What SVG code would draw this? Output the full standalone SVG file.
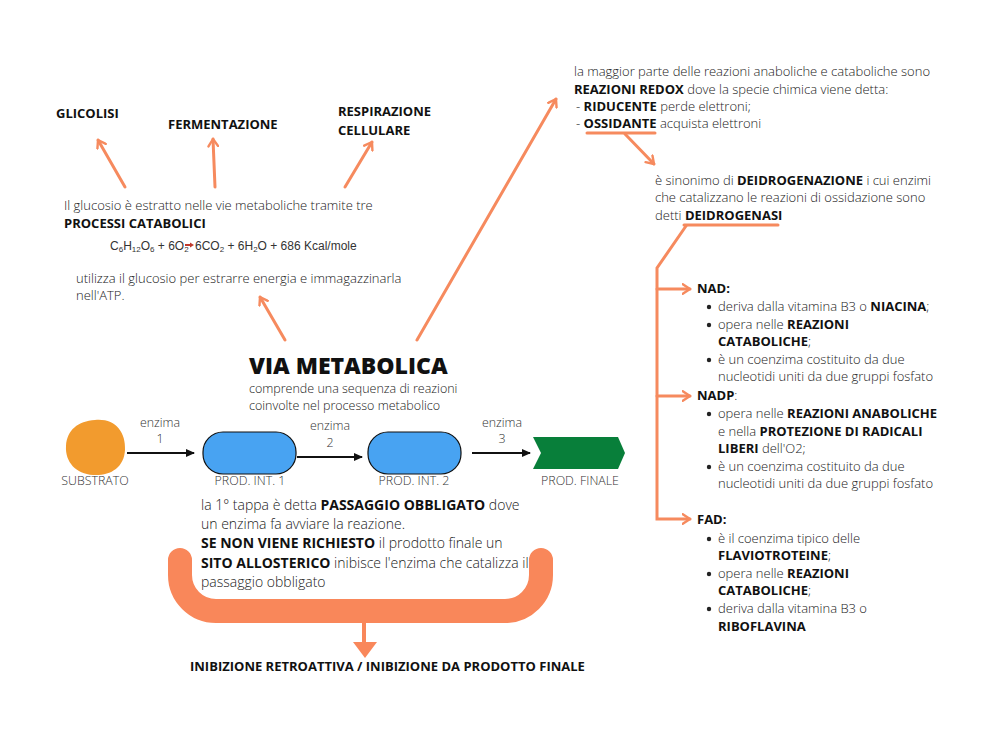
<svg xmlns="http://www.w3.org/2000/svg" width="1000" height="750" viewBox="0 0 1000 750">
<style>
text{font-family:"Open Sans","Noto Sans","Liberation Sans",sans-serif;fill:#222;}
.t{font-size:13px;font-weight:300;}
.p{font-size:14px;font-weight:300;}
.b{font-weight:700;fill:#111;}
.h{font-size:13px;font-weight:700;fill:#111;}
.lbl{font-size:12.4px;font-weight:300;fill:#333;text-anchor:middle;}
.oc{fill:none;stroke:#F68A5E;stroke-width:3;stroke-linecap:round;}
.bk{fill:none;stroke:#111;stroke-width:2;}
.f{font-family:"Liberation Sans",Arial,sans-serif;font-size:12px;fill:#333;}
</style>
<defs>
<marker id="oa" viewBox="0 0 10 10" refX="7" refY="5" markerWidth="4" markerHeight="4" orient="auto" markerUnits="strokeWidth">
<path d="M1,1 L7,5 L1,9" fill="none" stroke="#F68A5E" stroke-width="2" stroke-linecap="round" stroke-linejoin="round"/>
</marker>
<marker id="ba" viewBox="0 0 10 10" refX="8" refY="5" markerWidth="5" markerHeight="5" orient="auto" markerUnits="strokeWidth">
<path d="M0,1 L9,5 L0,9 Z" fill="#111"/>
</marker>
</defs>
<rect width="1000" height="750" fill="#fff"/>

<g id="connectors">
<line class="oc" x1="125" y1="187" x2="98" y2="140" marker-end="url(#oa)"/>
<line class="oc" x1="215" y1="187" x2="213" y2="139" marker-end="url(#oa)"/>
<line class="oc" x1="345" y1="187" x2="372" y2="142" marker-end="url(#oa)"/>
<line class="oc" x1="285" y1="340" x2="260" y2="297" marker-end="url(#oa)"/>
<line class="oc" x1="417" y1="340" x2="556" y2="99" marker-end="url(#oa)"/>
<line class="oc" x1="587" y1="133" x2="655" y2="133"/>
<line class="oc" x1="625" y1="134" x2="654" y2="164" marker-end="url(#oa)"/>
<line class="oc" x1="684" y1="225" x2="778" y2="225"/>
<polyline class="oc" points="686,226 657,268 657,519 690,519" marker-end="url(#oa)"/>
<line class="oc" x1="657" y1="289" x2="690" y2="289" marker-end="url(#oa)"/>
<line class="oc" x1="657" y1="396" x2="690" y2="396" marker-end="url(#oa)"/>
<line class="bk" x1="127" y1="453" x2="194" y2="453" marker-end="url(#ba)"/>
<line class="bk" x1="297" y1="457" x2="362" y2="457" marker-end="url(#ba)"/>
<line class="bk" x1="472" y1="453" x2="530" y2="453" marker-end="url(#ba)"/>
<path d="M180,560 V575 A36,36 0 0 0 216,611 H505 A36,36 0 0 0 541,575 V560" fill="none" stroke="#F9875A" stroke-width="24" stroke-linecap="round"/>
<rect x="362" y="622" width="4" height="22" fill="#F9875A"/>
<path d="M353,642 L377,642 L365,658 Z" fill="#F9875A"/>
</g>

<g id="glicolisi"><text class="h" x="56" y="118">GLICOLISI</text></g>
<g id="fermentazione"><text class="h" x="168" y="129">FERMENTAZIONE</text></g>
<g id="respirazione"><text class="h" x="338" y="116">RESPIRAZIONE</text><text class="h" x="338" y="135">CELLULARE</text></g>

<g id="processi">
<text class="t" x="64" y="210">Il glucosio è estratto nelle vie metaboliche tramite tre</text>
<text class="h" x="64" y="228">PROCESSI CATABOLICI</text>
<text class="f" x="110" y="250">C<tspan font-size="8" dy="2">6</tspan><tspan dy="-2">H</tspan><tspan font-size="8" dy="2">12</tspan><tspan dy="-2">O</tspan><tspan font-size="8" dy="2">6</tspan><tspan dy="-2"> + 6O</tspan><tspan font-size="8" dy="2">2</tspan></text>
<text class="f" x="195" y="250">6CO<tspan font-size="8" dy="2">2</tspan><tspan dy="-2"> + 6H</tspan><tspan font-size="8" dy="2">2</tspan><tspan dy="-2">O + 686 Kcal/mole</tspan></text>
<path d="M185,245 H191" stroke="#C0392B" stroke-width="2"/>
<path d="M190,242.5 L194,245 L190,247.5 Z" fill="#C0392B"/>
<text class="t" x="76" y="283">utilizza il glucosio per estrarre energia e immagazzinarla</text>
<text class="t" x="76" y="300">nell'ATP.</text>
</g>

<g id="via-metabolica">
<text x="249" y="374" style="font-size:23px;font-weight:800;fill:#111;">VIA METABOLICA</text>
<text class="t" x="249" y="393" style="font-size:12.5px">comprende una sequenza di reazioni</text>
<text class="t" x="249" y="410" style="font-size:12.5px">coinvolte nel processo metabolico</text>
</g>

<g id="substrato">
<path d="M95,420 C115,418 126,432 125,450 C124,468 110,476 93,475 C76,474 65,462 66,446 C67,430 78,421 95,420 Z" fill="#F29B2E"/>
<text class="lbl" x="95" y="485">SUBSTRATO</text>
</g>
<g id="enzima1"><text class="lbl" x="160" y="427">enzima</text><text class="lbl" x="160" y="443">1</text></g>
<g id="prod1">
<rect x="203" y="432" width="93" height="42" rx="20" fill="#48A3F2" stroke="#111" stroke-width="1.2"/>
<text class="lbl" x="250" y="485">PROD. INT. 1</text>
</g>
<g id="enzima2"><text class="lbl" x="330" y="430">enzima</text><text class="lbl" x="330" y="447">2</text></g>
<g id="prod2">
<rect x="368" y="432" width="93" height="42" rx="20" fill="#48A3F2" stroke="#111" stroke-width="1.2"/>
<text class="lbl" x="414" y="485">PROD. INT. 2</text>
</g>
<g id="enzima3"><text class="lbl" x="502" y="427">enzima</text><text class="lbl" x="502" y="443">3</text></g>
<g id="prodfinale">
<polygon points="533,437 618,437 625,453 618,469 533,469 541,453" fill="#087F3A"/>
<text class="lbl" x="580" y="485">PROD. FINALE</text>
</g>

<g id="passaggio">
<text class="p" x="201" y="510">la 1° tappa è detta <tspan class="b">PASSAGGIO OBBLIGATO</tspan> dove</text>
<text class="p" x="201" y="529">un enzima fa avviare la reazione.</text>
<text class="p" x="201" y="548"><tspan class="b">SE NON VIENE RICHIESTO</tspan> il prodotto finale un</text>
<text class="p" x="201" y="568"><tspan class="b">SITO ALLOSTERICO</tspan> inibisce l'enzima che catalizza il</text>
<text class="p" x="201" y="587">passaggio obbligato</text>
</g>

<g id="inibizione"><text class="h" x="190" y="671">INIBIZIONE RETROATTIVA / INIBIZIONE DA PRODOTTO FINALE</text></g>

<g id="redox">
<text class="t" x="574" y="76">la maggior parte delle reazioni anaboliche e cataboliche sono</text>
<text class="t" x="574" y="94"><tspan class="b">REAZIONI REDOX</tspan> dove la specie chimica viene detta:</text>
<text class="t" x="576" y="111">- <tspan class="b">RIDUCENTE</tspan> perde elettroni;</text>
<text class="t" x="576" y="128">- <tspan class="b">OSSIDANTE</tspan> acquista elettroni</text>
</g>

<g id="deidrogenazione">
<text class="t" x="655" y="185">è sinonimo di <tspan class="b">DEIDROGENAZIONE</tspan> i cui enzimi</text>
<text class="t" x="655" y="202">che catalizzano le reazioni di ossidazione sono</text>
<text class="t" x="655" y="220">detti <tspan class="b">DEIDROGENASI</tspan></text>
</g>

<g id="nad">
<text class="h" x="697" y="293">NAD:</text>
<circle cx="709" cy="307" r="2.2" fill="#222"/>
<text class="t" x="718" y="311">deriva dalla vitamina B3 o <tspan class="b">NIACINA</tspan>;</text>
<circle cx="709" cy="325" r="2.2" fill="#222"/>
<text class="t" x="718" y="329">opera nelle <tspan class="b">REAZIONI</tspan></text>
<text class="t" x="718" y="346"><tspan class="b">CATABOLICHE</tspan>;</text>
<circle cx="709" cy="360" r="2.2" fill="#222"/>
<text class="t" x="718" y="364">è un coenzima costituito da due</text>
<text class="t" x="718" y="381">nucleotidi uniti da due gruppi fosfato</text>
</g>

<g id="nadp">
<text class="t" x="697" y="400"><tspan class="b">NADP</tspan>:</text>
<circle cx="709" cy="414" r="2.2" fill="#222"/>
<text class="t" x="718" y="418">opera nelle <tspan class="b">REAZIONI ANABOLICHE</tspan></text>
<text class="t" x="718" y="436">e nella <tspan class="b">PROTEZIONE DI RADICALI</tspan></text>
<text class="t" x="718" y="453"><tspan class="b">LIBERI</tspan> dell'O2;</text>
<circle cx="709" cy="467" r="2.2" fill="#222"/>
<text class="t" x="718" y="471">è un coenzima costituito da due</text>
<text class="t" x="718" y="488">nucleotidi uniti da due gruppi fosfato</text>
</g>

<g id="fad">
<text class="h" x="697" y="524">FAD:</text>
<circle cx="709" cy="539" r="2.2" fill="#222"/>
<text class="t" x="718" y="543">è il coenzima tipico delle</text>
<text class="t" x="718" y="560"><tspan class="b">FLAVIOTROTEINE</tspan>;</text>
<circle cx="709" cy="574" r="2.2" fill="#222"/>
<text class="t" x="718" y="578">opera nelle <tspan class="b">REAZIONI</tspan></text>
<text class="t" x="718" y="595"><tspan class="b">CATABOLICHE</tspan>;</text>
<circle cx="709" cy="609" r="2.2" fill="#222"/>
<text class="t" x="718" y="613">deriva dalla vitamina B3 o</text>
<text class="t" x="718" y="631"><tspan class="b">RIBOFLAVINA</tspan></text>
</g>
</svg>
